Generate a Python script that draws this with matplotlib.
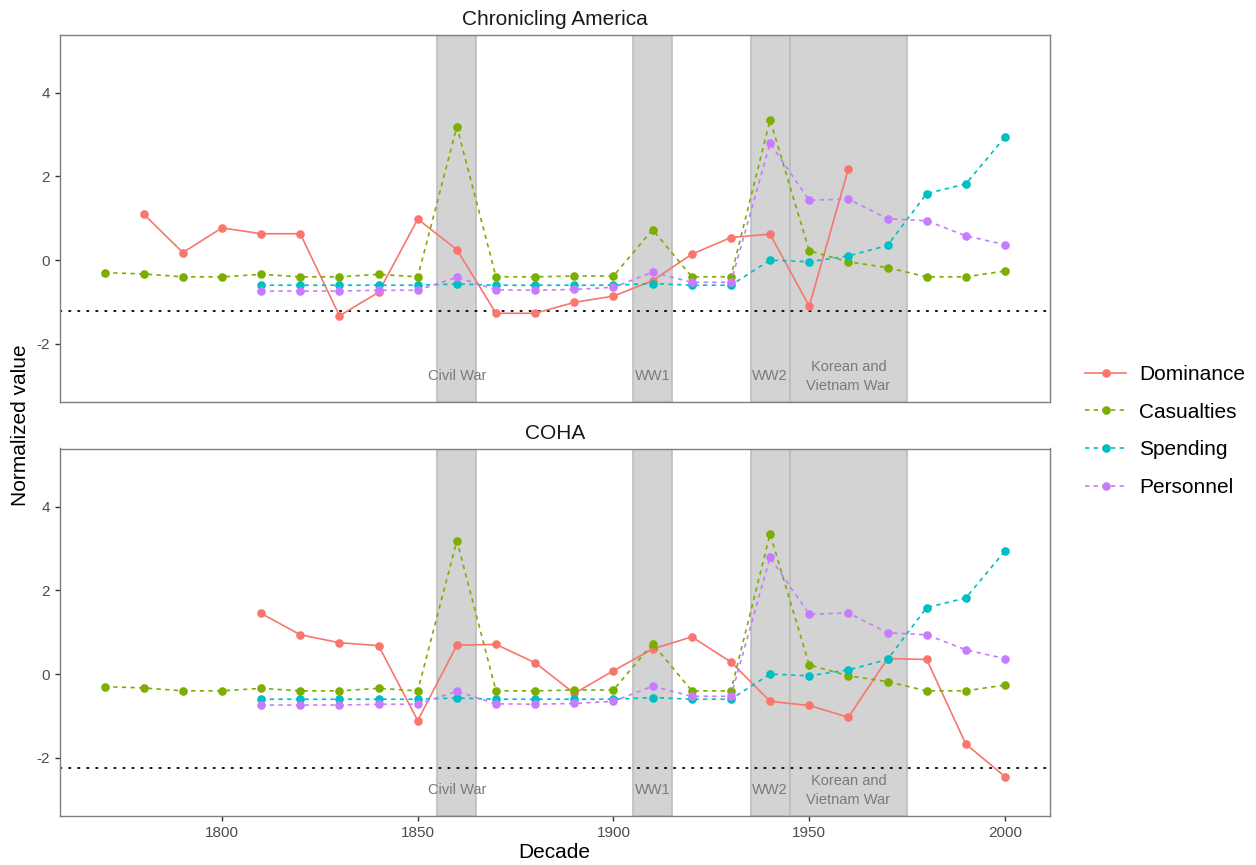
import numpy as np
import matplotlib
matplotlib.use('Agg')
import matplotlib.pyplot as plt

plt.rcParams['font.family'] = ['Liberation Sans', 'DejaVu Sans']
plt.rcParams['axes.unicode_minus'] = False

nan = np.nan
decades = [1770, 1780, 1790, 1800, 1810, 1820, 1830, 1840, 1850, 1860, 1870, 1880,
           1890, 1900, 1910, 1920, 1930, 1940, 1950, 1960, 1970, 1980, 1990, 2000]

casualties = [-0.30, -0.33, -0.40, -0.40, -0.34, -0.40, -0.40, -0.34, -0.40, 3.19, -0.40, -0.40,
              -0.38, -0.38, 0.73, -0.40, -0.40, 3.35, 0.22, -0.04, -0.18, -0.40, -0.40, -0.26]
spending = [nan, nan, nan, nan, -0.60, -0.60, -0.60, -0.60, -0.60, -0.57, -0.60, -0.60,
            -0.60, -0.60, -0.56, -0.60, -0.60, 0.00, -0.04, 0.10, 0.35, 1.59, 1.82, 2.94]
personnel = [nan, nan, nan, nan, -0.74, -0.74, -0.74, -0.72, -0.72, -0.41, -0.71, -0.72,
             -0.70, -0.65, -0.29, -0.53, -0.53, 2.79, 1.43, 1.46, 0.99, 0.94, 0.58, 0.37]

dominance_ca = [nan, 1.10, 0.18, 0.77, 0.63, 0.63, -1.33, -0.77, 0.98, 0.25, -1.27, -1.27,
                -1.01, -0.86, -0.49, 0.14, 0.54, 0.62, -1.10, 2.18, nan, nan, nan, nan]
dominance_coha = [nan, nan, nan, nan, 1.45, 0.94, 0.75, 0.68, -1.11, 0.69, 0.71, 0.27,
                  -0.46, 0.08, 0.60, 0.89, 0.29, -0.65, -0.75, -1.03, 0.37, 0.35, -1.67, -2.45]

panels = ['Chronicling America', 'COHA']
thresholds = [-1.21, -2.24]

war_names = ['Civil War', 'WW1', 'WW2', 'Korean and\nVietnam War']
war_start = [1855, 1905, 1935, 1945]
war_end = [1865, 1915, 1945, 1975]

series_names = ['Dominance', 'Casualties', 'Spending', 'Personnel']
colors = ['#F8766D', '#7CAE00', '#00BFC4', '#C77CFF']

fig = plt.figure(figsize=(12.56, 8.65), dpi=100)
ax_top = fig.add_axes([59.5 / 1256, 1 - 402 / 865, 990.5 / 1256, 367.5 / 865])
ax_bot = fig.add_axes([59.5 / 1256, 1 - 816 / 865, 990.5 / 1256, 367.5 / 865])

dash = (0, (2.6, 2.6))
for ax, title, dom, thr in zip([ax_top, ax_bot], panels,
                               [dominance_ca, dominance_coha], thresholds):
    for s, e in zip(war_start, war_end):
        ax.axvspan(s, e, facecolor='#d3d3d3', edgecolor='#bdbdbd', lw=1.2, zorder=1)
    for name, s, e in zip(war_names, war_start, war_end):
        ax.text((s + e) / 2, -2.77, name, ha='center', va='center', fontsize=10.5,
                color='#7a7a7a', linespacing=1.45, zorder=2)
    ax.axhline(thr, color='black', lw=1.3, linestyle=(0, (0.8, 4.2)),
               dash_capstyle='round', zorder=2)
    series = [dom, casualties, spending, personnel]
    for name, vals, c in zip(series_names, series, colors):
        ls = '-' if name == 'Dominance' else dash
        ax.plot(decades, vals, color=c, lw=1.2, linestyle=ls, marker='o',
                markersize=6.2, markeredgewidth=0, label=name, zorder=3)

    ax.set_xlim(1758.5, 2011.5)
    ax.set_ylim(-3.39, 5.39)
    ax.set_yticks([-2, 0, 2, 4])
    ax.set_xticks([1800, 1850, 1900, 1950, 2000])
    ax.tick_params(colors='#333333', labelcolor='#4d4d4d', labelsize=11,
                   length=3.5, width=1)
    for sp in ax.spines.values():
        sp.set_color('#7f7f7f')
        sp.set_linewidth(1)
    ax.set_title(title, fontsize=15, color='#1a1a1a', pad=7)

ax_top.tick_params(axis='x', bottom=False, labelbottom=False)
ax_bot.set_xlabel('Decade', fontsize=15, labelpad=2)
fig.text(21 / 1256, 1 - 425 / 865, 'Normalized value', rotation=90,
         ha='center', va='center', fontsize=15)

handles, labels = ax_top.get_legend_handles_labels()
fig.legend(handles, labels, loc='center left', bbox_to_anchor=(1066 / 1256, 1 - 431 / 865),
           frameon=False, fontsize=15, handlelength=2.0, handletextpad=0.6,
           labelspacing=0.9)

plt.savefig('out.png', dpi=100)
